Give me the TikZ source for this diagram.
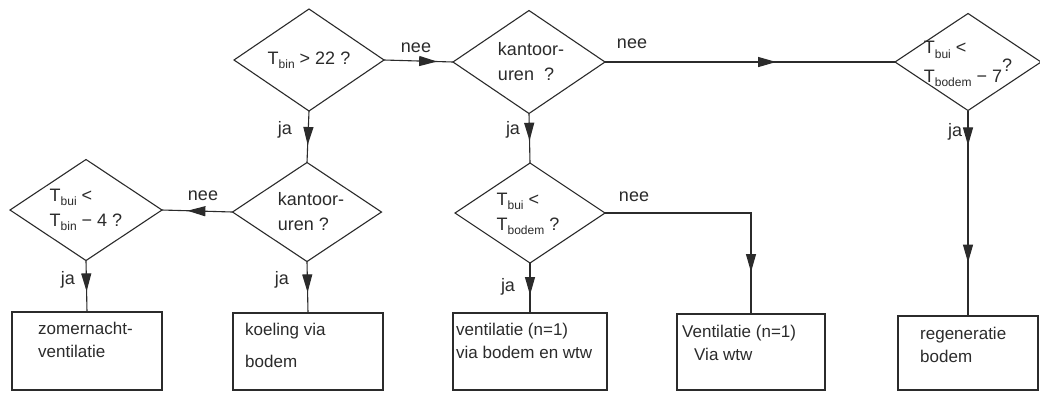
\documentclass[tikz,border=0pt]{standalone}
\usepackage{fontspec}
\setmainfont{Liberation Sans}
\usetikzlibrary{shapes.geometric,arrows.meta,decorations.markings}
\definecolor{inkc}{HTML}{2B2B2B}
\newcommand\sbs[1]{\raisebox{-0.45ex}{\fontsize{12}{12}\selectfont #1}}
\begin{document}
\begin{tikzpicture}[x=1pt,y=-1pt,
  line/.style={draw=inkc, line width=1.1pt},
  dia/.style={line, shape=diamond, inner sep=0pt, outer sep=0pt},
  boxx/.style={line, shape=rectangle, inner sep=0pt, outer sep=0pt},
  dtxt/.style={text=inkc, font=\fontsize{18}{25}\selectfont, align=left, inner sep=0pt},
  btxt/.style={text=inkc, font=\fontsize{17}{23}\selectfont, align=left, inner sep=0pt, anchor=north west},
  lbl/.style={text=inkc, font=\fontsize{18}{20}\selectfont, inner sep=0pt},
  arrat/.style={postaction={decorate}, decoration={markings, mark=at position #1 with {\arrow[inkc]{Triangle[length=18pt,width=10pt]}}}},
  arrtwo/.style 2 args={postaction={decorate}, decoration={markings,
     mark=at position #1 with {\arrow[inkc]{Triangle[length=18pt,width=10pt]}},
     mark=at position #2 with {\arrow[inkc]{Triangle[length=18pt,width=10pt]}}}}
]
\useasboundingbox (0,0) rectangle (1040,392);
\fill[white] (0,0) rectangle (1040,392);

% decisions
\node[dia, minimum width=150pt, minimum height=102pt] (d1) at (309,60) {};
\node[dia, minimum width=152pt, minimum height=103pt] (d2) at (529,62) {};
\node[dia, minimum width=146pt, minimum height=97pt] (d3) at (968,62) {};
\node[dia, minimum width=149pt, minimum height=99pt] (d4) at (307,212) {};
\node[dia, minimum width=152pt, minimum height=101pt] (d5) at (86,210) {};
\node[dia, minimum width=150pt, minimum height=100pt] (d6) at (530,213) {};

\node[dtxt] (t1) at (d1) {T\sbs{bin} {>} 22 ?};
\node[dtxt] (t2) at ([shift={(2,0)}]d2) {kantoor-\\uren\ \ ?};
\node[dtxt] (t3) at ([shift={(0,2)}]d3) {T\sbs{bui} {<}\\T\sbs{bodem} − 7\raisebox{1.1ex}{?}};
\node[dtxt] (t4) at ([shift={(4,0)}]d4) {kantoor-\\uren ?};
\node[dtxt] (t5) at ([shift={(0,0)}]d5) {T\sbs{bui} {<}\\T\sbs{bin} − 4 ?};
\node[dtxt] (t6) at ([shift={(-2,1)}]d6) {T\sbs{bui} {<}\\T\sbs{bodem} ?};

% actions
\node[boxx, minimum width=150pt, minimum height=78pt] (b1) at (87,351) {};
\node[boxx, minimum width=150pt, minimum height=77pt] (b2) at (308,351.5) {};
\node[boxx, minimum width=154pt, minimum height=77pt] (b3) at (530,351.5) {};
\node[boxx, minimum width=148pt, minimum height=76pt] (b4) at (751,352) {};
\node[boxx, minimum width=140pt, minimum height=74pt] (b5) at (968,353) {};

\node[btxt] (x1) at ([shift={(26,10)}]b1.north west) {zomernacht-\\ventilatie};
\node[btxt, font=\fontsize{17}{32}\selectfont] (x2) at ([shift={(12,10)}]b2.north west) {koeling via\\bodem};
\node[btxt] (x3) at ([shift={(3,10)}]b3.north west) {ventilatie (n=1)\\via bodem en wtw};
\node[btxt] (x4) at ([shift={(5,11)}]b4.north west) {Ventilatie (n=1)\\\hspace*{12pt}Via wtw};
\node[btxt] (x5) at ([shift={(22,11)}]b5.north west) {regeneratie\\bodem};

% connectors
\draw[line, arrat=0.77] (d1.east) -- (d2.west);
\draw[line, arrat=0.59] (d2.east) -- (d3.west);
\draw[line, arrat=0.66] (d1.south) -- (d4.north);
\draw[line, arrat=0.55] (d2.south) -- (d6.north);
\draw[line, arrtwo={0.17}{0.74}] (d3.south) -- (d3.south |- b5.north);
\draw[line, arrat=0.64] (d4.west) -- (d5.east);
\draw[line, arrat=0.6] (d4.south) -- (b2.north);
\draw[line, arrat=0.6] (d5.south) -- (b1.north);
\draw[line, arrat=0.64] (d6.south) -- (b3.north);
\draw[line, arrat=0.83] (d6.east) -| (b4.north);

% labels
\node[lbl] (n1) at (416,48) {nee};
\node[lbl] (n2) at (632,44) {nee};
\node[lbl] (n3) at (203,196) {nee};
\node[lbl] (n4) at (634,197) {nee};
\node[lbl] (j1) at (285,130) {ja};
\node[lbl] (j2) at (513,130) {ja};
\node[lbl] (j3) at (955,132) {ja};
\node[lbl] (j4) at (68,280) {ja};
\node[lbl] (j5) at (282,280) {ja};
\node[lbl] (j6) at (508,287) {ja};
\end{tikzpicture}
\end{document}
